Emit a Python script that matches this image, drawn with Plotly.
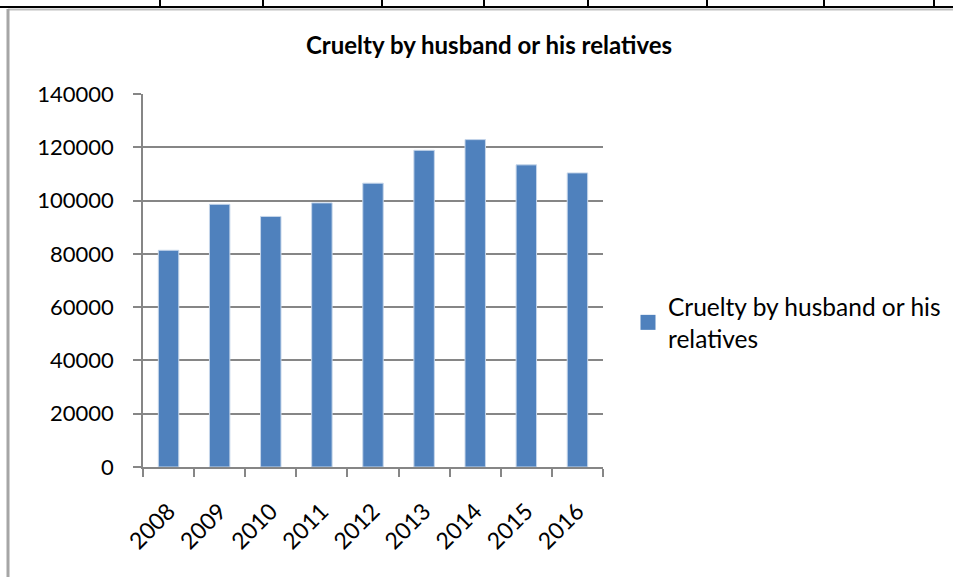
import plotly.graph_objects as go

years = ["2008", "2009", "2010", "2011", "2012", "2013", "2014", "2015", "2016"]
cases = [81344, 98600, 94041, 99135, 106527, 118866, 122877, 113403, 110378]
series_name = "Cruelty by husband or his<br>relatives"
title_text = "<b>Cruelty by husband or his relatives</b>"
y_ticks = [0, 20000, 40000, 60000, 80000, 100000, 120000, 140000]

W, H = 953, 577
L, R, T, B = 143, 603, 94, 467  # plot area pixels

def px(x):
    return (x - L) / (R - L)

def py(y):
    return (B - y) / (B - T)

FONT = "Lato"
GRID = "#868686"
BAR = "#4F81BD"

fig = go.Figure()
fig.add_trace(go.Bar(
    x=years, y=cases, name=series_name,
    marker=dict(color=BAR, line=dict(color="#C6D6EA", width=1)),
    showlegend=False, legendgroup="s",
))
# legend entry (square swatch) for the bar series
fig.add_trace(go.Scatter(
    x=[None], y=[None], mode="markers", name=series_name, legendgroup="s",
    marker=dict(symbol="square", size=15, color=BAR), showlegend=True,
))

shapes = []
# table border lines at the top (cropped table of the page)
shapes.append(dict(type="line", xref="paper", yref="paper", x0=px(0), x1=px(W), y0=py(7), y1=py(7),
                   line=dict(color="#000000", width=2)))
for xv in [160, 263, 382, 484, 588, 707, 824, 934]:
    shapes.append(dict(type="line", xref="paper", yref="paper", x0=px(xv), x1=px(xv), y0=py(-2), y1=py(7),
                       line=dict(color="#000000", width=2)))
# chart frame
shapes.append(dict(type="line", xref="paper", yref="paper", x0=px(8), x1=px(W + 5), y0=py(9.5), y1=py(9.5),
                   line=dict(color="#BFBFBF", width=2)))
shapes.append(dict(type="line", xref="paper", yref="paper", x0=px(8), x1=px(8), y0=py(9), y1=py(H + 5),
                   line=dict(color="#A6A6A6", width=3)))

fig.update_layout(
    width=W, height=H,
    margin=dict(l=L, r=W - R, t=T, b=H - B, autoexpand=False),
    paper_bgcolor="white", plot_bgcolor="white",
    font=dict(family=FONT, size=22, color="#000000"),
    bargap=0.6,
    title=dict(text=title_text, font=dict(family=FONT, size=24, color="#000000"),
               xref="paper", x=px(489), xanchor="center",
               yref="container", y=1 - 46 / H, yanchor="middle"),
    xaxis=dict(
        type="category", tickangle=-45, ticks="outside", tickson="boundaries",
        ticklen=8, tickcolor=GRID, tickwidth=1.5,
        showline=True, linecolor=GRID, linewidth=1.5,
        showgrid=False, tickfont=dict(family=FONT, size=23),
        ticklabelstandoff=20,
    ),
    yaxis=dict(
        range=[0, 140000], tickvals=y_ticks, tickformat="d", ticks="outside", ticklen=8,
        tickcolor=GRID, tickwidth=1.5,
        showline=True, linecolor=GRID, linewidth=1.5,
        showgrid=True, gridcolor=GRID, gridwidth=1.5,
        zeroline=False, tickfont=dict(family=FONT, size=22),
        ticklabelstandoff=15,
    ),
    legend=dict(x=px(628), xanchor="left", y=py(284), yanchor="top",
                font=dict(family=FONT, size=24.5), bgcolor="rgba(0,0,0,0)",
                itemwidth=30, tracegroupgap=0),
    shapes=shapes,
)

fig.write_html("out.html", config={"displayModeBar": False},
               post_script="document.body.style.margin='0';document.body.style.overflow='hidden';")
